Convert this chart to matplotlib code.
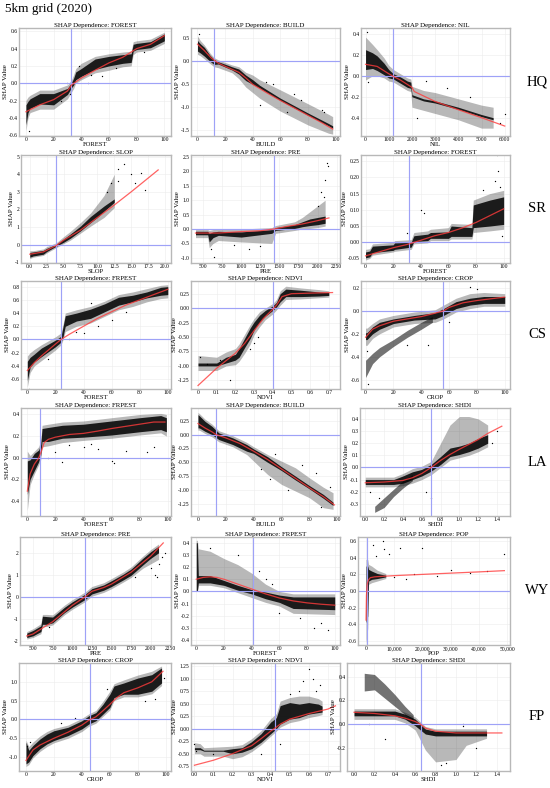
import matplotlib
matplotlib.use("Agg")
import matplotlib.pyplot as plt

plt.rcParams['font.family'] = ['Liberation Serif', 'DejaVu Serif']

# ---------------- text / categories ----------------
FIG_TITLE = "5km grid (2020)"
ROW_LABELS = ["HQ", "SR", "CS", "LA", "WY", "FP"]
TITLE_FEATURES = [["FOREST", "BUILD", "NIL"],
                  ["SLOP", "PRE", "FOREST"],
                  ["FRPEST", "NDVI", "CROP"],
                  ["FRPEST", "BUILD", "SHDI"],
                  ["PRE", "FRPEST", "POP"],
                  ["CROP", "NDVI", "SHDI"]]
X_LABELS = [["FOREST", "BUILD", "NIL"],
            ["SLOP", "PRE", "FOREST"],
            ["FOREST", "NDVI", "CROP"],
            ["FOREST", "BUILD", "SHDI"],
            ["PRE", "FOREST", "POP"],
            ["CROP", "NDVI", "SHDI"]]
VLINES = [[32.5, 11.8, 1164], [3.9, 1432, 31.7], [24.3, 0.40, 55.9],
          [9.25, 13.1, 0.70], [1164, 41.3, 250], [45.5, 0.424, 0.653]]

# ---------------- HQ ----------------
hq_forest_x   = [0, 1.5, 3, 10, 20, 30, 33, 34.5, 36, 40, 50, 60, 70, 76, 77.5, 80, 90, 100]
hq_forest_lo  = [-0.48, -0.34, -0.29, -0.24, -0.25, -0.13, -0.05, -0.02, 0.04, 0.08, 0.16, 0.2, 0.23, 0.24, 0.37, 0.39, 0.41, 0.49]
hq_forest_hi  = [-0.25, -0.21, -0.18, -0.12, -0.12, -0.06, 0.01, 0.06, 0.13, 0.17, 0.28, 0.31, 0.33, 0.34, 0.45, 0.46, 0.48, 0.57]
hq_forest_hlo = [-0.55, -0.4, -0.34, -0.3, -0.3, -0.18, -0.1, -0.06, 0.0, 0.04, 0.12, 0.15, 0.19, 0.2, 0.33, 0.36, 0.38, 0.46]
hq_forest_hhi = [-0.2, -0.16, -0.14, -0.08, -0.08, -0.02, 0.04, 0.1, 0.17, 0.23, 0.31, 0.34, 0.36, 0.37, 0.48, 0.49, 0.51, 0.59]
hq_forest_fx  = [0, 10, 20, 30, 33, 40, 50, 60, 70, 80, 90, 100]
hq_forest_fy  = [-0.33, -0.25, -0.19, -0.09, -0.02, 0.06, 0.15, 0.235, 0.30, 0.40, 0.45, 0.55]
hq_forest_px  = [2, 45, 47, 55, 30, 32, 25, 65, 85, 38]
hq_forest_py  = [-0.55, 0.0, 0.1, 0.08, 0.0, -0.12, -0.2, 0.17, 0.36, 0.2]

hq_build_x   = [0, 2, 5, 9, 12, 15, 25, 30, 35, 40, 45, 60, 80, 95, 98]
hq_build_lo  = [0.22, 0.18, 0.11, 0.0, -0.07, -0.06, -0.19, -0.28, -0.42, -0.5, -0.58, -0.85, -1.17, -1.4, -1.45]
hq_build_hi  = [0.45, 0.38, 0.3, 0.13, 0.04, -0.01, -0.12, -0.17, -0.3, -0.4, -0.52, -0.8, -1.12, -1.35, -1.4]
hq_build_hlo = [0.15, 0.12, 0.05, -0.05, -0.12, -0.14, -0.25, -0.38, -0.56, -0.68, -0.8, -1.08, -1.38, -1.56, -1.58]
hq_build_hhi = [0.55, 0.45, 0.35, 0.18, 0.08, 0.03, -0.08, -0.12, -0.24, -0.3, -0.4, -0.62, -0.92, -1.15, -1.2]
hq_build_fx  = [0, 5, 10, 15, 20, 30, 35, 40, 50, 60, 70, 80, 90, 98]
hq_build_fy  = [0.37, 0.23, 0.07, -0.04, -0.11, -0.24, -0.36, -0.5, -0.68, -0.85, -1.01, -1.17, -1.33, -1.47]
hq_build_px  = [1, 50, 55, 70, 75, 90, 92, 65, 45]
hq_build_py  = [0.6, -0.45, -0.5, -0.7, -0.85, -1.05, -1.1, -1.1, -0.95]

hq_nil_x   = [0, 300, 500, 800, 1000, 1200, 1500, 1800, 1950, 2000, 2500, 3000, 4000, 5000, 5500]
hq_nil_lo  = [0.06, 0.07, 0.05, 0.01, -0.02, -0.03, -0.07, -0.11, -0.12, -0.2, -0.24, -0.26, -0.32, -0.39, -0.42]
hq_nil_hi  = [0.25, 0.22, 0.19, 0.12, 0.06, 0.02, -0.01, -0.05, -0.06, -0.18, -0.22, -0.24, -0.3, -0.37, -0.40]
hq_nil_hlo = [-0.04, 0.0, 0.0, -0.02, -0.05, -0.06, -0.1, -0.14, -0.15, -0.3, -0.33, -0.36, -0.42, -0.5, -0.5]
hq_nil_hhi = [0.37, 0.3, 0.25, 0.17, 0.1, 0.06, 0.02, -0.02, -0.03, -0.1, -0.14, -0.16, -0.22, -0.28, -0.3]
hq_nil_fx  = [0, 500, 1000, 1200, 1500, 2000, 2100, 3000, 4000, 5000, 6000]
hq_nil_fy  = [0.11, 0.09, 0.02, -0.006, -0.04, -0.11, -0.15, -0.245, -0.324, -0.40, -0.48]
hq_nil_px  = [50, 100, 2200, 2600, 3500, 4500, 5800, 6000]
hq_nil_py  = [0.42, -0.06, -0.4, -0.05, -0.12, -0.2, -0.45, -0.36]

# ---------------- SR ----------------
sr_slop_x   = [0, 0.5, 2, 2.5, 3.9, 5, 6, 7.5, 9, 10, 11, 12.5]
sr_slop_lo  = [-0.72, -0.65, -0.55, -0.4, -0.1, 0.13, 0.36, 0.78, 1.25, 1.55, 1.9, 2.4]
sr_slop_hi  = [-0.45, -0.42, -0.33, -0.22, 0.02, 0.32, 0.6, 1.05, 1.6, 1.9, 2.2, 2.6]
sr_slop_hlo = [-0.8, -0.72, -0.62, -0.48, -0.18, 0.05, 0.25, 0.65, 1.05, 1.3, 1.55, 2.1]
sr_slop_hhi = [-0.35, -0.35, -0.25, -0.12, 0.1, 0.45, 0.75, 1.25, 1.8, 2.3, 2.8, 4.0]
sr_slop_fx  = [0, 2, 3.9, 5, 7.5, 10, 12.5, 15, 17.5, 19]
sr_slop_fy  = [-0.55, -0.42, -0.06, 0.25, 0.82, 1.54, 2.25, 3.0, 3.78, 4.25]
sr_slop_px  = [13.5, 14, 15, 16.5, 17, 14.5, 13, 12, 15.5, 11.5, 13]
sr_slop_py  = [5.2, 4.6, 4.0, 4.1, 3.1, 5.3, 3.6, 3.5, 3.5, 3.0, 4.3]

sr_pre_x   = [400, 560, 580, 630, 700, 1000, 1400, 1450, 1700, 1800, 1900, 2000, 2100]
sr_pre_lo  = [-0.2, -0.2, -0.45, -0.3, -0.22, -0.28, -0.15, -0.05, 0.02, 0.08, 0.12, 0.15, 0.2]
sr_pre_hi  = [-0.08, -0.08, -0.15, -0.1, -0.08, -0.1, -0.02, 0.05, 0.15, 0.25, 0.35, 0.4, 0.45]
sr_pre_hlo = [-0.3, -0.3, -0.65, -0.5, -0.4, -0.45, -0.5, -0.15, -0.05, 0.0, 0.02, 0.05, 0.1]
sr_pre_hhi = [-0.02, -0.02, -0.05, -0.02, 0.0, 0.0, 0.05, 0.12, 0.25, 0.4, 0.6, 0.8, 1.0]
sr_pre_fx  = [400, 700, 1000, 1250, 1430, 1600, 1800, 2000, 2150]
sr_pre_fy  = [-0.14, -0.14, -0.09, -0.06, 0.0, 0.09, 0.175, 0.29, 0.385]
sr_pre_px  = [640, 600, 2050, 2100, 2120, 2140, 2080, 2000, 1100, 1250, 900]
sr_pre_py  = [-0.98, -0.7, 1.3, 1.7, 2.3, 2.2, 1.1, 0.8, -0.7, -0.6, -0.55]

sr_forest_x   = [0, 3, 5, 20, 21, 33, 35, 45, 47, 60, 62, 77, 78, 90, 100]
sr_forest_lo  = [-0.048, -0.045, -0.032, -0.025, -0.022, -0.015, 0.002, 0.005, 0.012, 0.012, 0.018, 0.018, 0.045, 0.05, 0.055]
sr_forest_hi  = [-0.03, -0.027, -0.012, -0.008, -0.002, 0.0, 0.02, 0.025, 0.03, 0.032, 0.05, 0.045, 0.115, 0.13, 0.14]
sr_forest_hlo = [-0.055, -0.05, -0.04, -0.03, -0.028, -0.022, -0.005, -0.002, 0.005, 0.005, 0.01, 0.01, 0.03, 0.035, 0.04]
sr_forest_hhi = [-0.022, -0.02, -0.005, 0.0, 0.005, 0.008, 0.03, 0.035, 0.04, 0.045, 0.058, 0.055, 0.13, 0.15, 0.16]
sr_forest_fx  = [0, 20, 30, 40, 50, 60, 70, 80, 90, 100]
sr_forest_fy  = [-0.042, -0.017, -0.007, 0.006, 0.02, 0.03, 0.044, 0.061, 0.082, 0.103]
sr_forest_px  = [95, 96, 94, 40, 42, 99, 30, 85, 97]
sr_forest_py  = [0.27, 0.22, 0.19, 0.1, 0.09, 0.02, 0.03, 0.16, 0.17]

# ---------------- CS ----------------
cs_frpest_x   = [0, 2, 5, 10, 20, 24, 25.5, 27, 35, 45, 55, 65, 75, 85, 95, 100]
cs_frpest_lo  = [-0.62, -0.42, -0.34, -0.26, -0.11, -0.04, 0.05, 0.2, 0.28, 0.32, 0.42, 0.52, 0.57, 0.63, 0.67, 0.68]
cs_frpest_hi  = [-0.33, -0.27, -0.22, -0.13, -0.01, 0.05, 0.2, 0.36, 0.4, 0.46, 0.54, 0.64, 0.67, 0.72, 0.79, 0.8]
cs_frpest_hlo = [-0.72, -0.5, -0.4, -0.32, -0.16, -0.08, 0.0, 0.12, 0.2, 0.25, 0.35, 0.45, 0.5, 0.57, 0.62, 0.63]
cs_frpest_hhi = [-0.25, -0.2, -0.15, -0.08, 0.04, 0.1, 0.24, 0.4, 0.45, 0.5, 0.58, 0.68, 0.72, 0.77, 0.82, 0.83]
cs_frpest_fx  = [0, 5, 10, 20, 24, 30, 40, 50, 60, 70, 80, 90, 100]
cs_frpest_fy  = [-0.47, -0.35, -0.25, -0.07, 0.0, 0.08, 0.2, 0.32, 0.42, 0.52, 0.6, 0.68, 0.76]
cs_frpest_px  = [30, 35, 40, 50, 60, 1, 15, 45, 70]
cs_frpest_py  = [0.0, 0.12, 0.1, 0.2, 0.3, -0.75, -0.3, 0.55, 0.42]

cs_ndvi_x   = [0, 0.1, 0.15, 0.2, 0.22, 0.25, 0.28, 0.3, 0.33, 0.36, 0.4, 0.42, 0.44, 0.47, 0.55, 0.65, 0.7]
cs_ndvi_lo  = [-1.0, -1.0, -0.95, -0.9, -0.85, -0.68, -0.52, -0.38, -0.24, -0.14, -0.04, 0.02, 0.11, 0.2, 0.2, 0.21, 0.22]
cs_ndvi_hi  = [-0.95, -0.95, -0.85, -0.8, -0.7, -0.52, -0.34, -0.24, -0.12, -0.04, 0.04, 0.1, 0.25, 0.33, 0.31, 0.28, 0.27]
cs_ndvi_hlo = [-1.08, -1.08, -1.0, -0.98, -0.92, -0.78, -0.62, -0.46, -0.32, -0.2, -0.1, -0.03, 0.05, 0.15, 0.16, 0.18, 0.19]
cs_ndvi_hhi = [-0.82, -0.85, -0.76, -0.7, -0.62, -0.45, -0.28, -0.18, -0.06, 0.0, 0.08, 0.15, 0.3, 0.38, 0.35, 0.32, 0.3]
cs_ndvi_fx  = [0, 0.1, 0.2, 0.25, 0.3, 0.35, 0.4, 0.42, 0.45, 0.5, 0.6, 0.72]
cs_ndvi_fy  = [-1.34, -1.04, -0.78, -0.61, -0.39, -0.18, -0.02, 0.05, 0.2, 0.25, 0.26, 0.27]
cs_ndvi_px  = [0.17, 0.01, 0.05, 0.12, 0.3, 0.32, 0.28]
cs_ndvi_py  = [-1.25, -0.85, -0.97, -0.9, -0.6, -0.5, -0.7]

cs_crop_x   = [0, 1, 5, 10, 20, 35, 50, 56, 65, 75, 85, 100]
cs_crop_lo  = [-0.25, -0.25, -0.2, -0.16, -0.11, -0.08, -0.07, -0.04, 0.02, 0.05, 0.065, 0.065]
cs_crop_hi  = [-0.19, -0.19, -0.14, -0.1, -0.07, -0.04, -0.015, 0.02, 0.08, 0.11, 0.125, 0.125]
cs_crop_hlo = [-0.3, -0.3, -0.24, -0.2, -0.14, -0.11, -0.1, -0.07, -0.01, 0.02, 0.04, 0.04]
cs_crop_hhi = [-0.15, -0.15, -0.11, -0.07, -0.04, -0.01, 0.01, 0.05, 0.11, 0.15, 0.16, 0.15]
cs_crop_x2  = [0, 5, 10, 20, 30, 40, 48]
cs_crop_lo2 = [-0.58, -0.46, -0.4, -0.31, -0.23, -0.16, -0.1]
cs_crop_hi2 = [-0.43, -0.37, -0.32, -0.25, -0.17, -0.1, -0.05]
cs_crop_fx  = [0, 5, 10, 20, 30, 40, 50, 56, 60, 70, 80, 90, 100]
cs_crop_fy  = [-0.23, -0.16, -0.13, -0.09, -0.07, -0.05, -0.02, 0.0, 0.03, 0.07, 0.09, 0.105, 0.12]
cs_crop_px  = [2, 45, 30, 75, 80, 1, 60]
cs_crop_py  = [-0.64, -0.3, -0.3, 0.21, 0.19, -0.35, -0.1]

# ---------------- LA ----------------
la_frpest_x   = [0, 2, 5, 8, 9.5, 10.5, 15, 25, 40, 60, 80, 95, 99]
la_frpest_lo  = [-0.34, -0.2, -0.12, -0.04, 0.02, 0.15, 0.15, 0.18, 0.19, 0.21, 0.24, 0.26, 0.24]
la_frpest_hi  = [-0.03, -0.02, 0.04, 0.07, 0.12, 0.27, 0.28, 0.3, 0.31, 0.34, 0.37, 0.39, 0.37]
la_frpest_hlo = [-0.49, -0.25, -0.15, -0.07, -0.02, 0.1, 0.11, 0.14, 0.16, 0.18, 0.21, 0.23, 0.2]
la_frpest_hhi = [0.06, 0.02, 0.06, 0.1, 0.15, 0.3, 0.31, 0.33, 0.34, 0.37, 0.4, 0.41, 0.4]
la_frpest_fx  = [0, 2, 5, 8, 10, 12, 15, 20, 30, 40, 50, 60, 70, 80, 90, 98]
la_frpest_fy  = [-0.31, -0.15, -0.06, -0.005, 0.06, 0.14, 0.17, 0.19, 0.215, 0.225, 0.246, 0.27, 0.29, 0.31, 0.33, 0.33]
la_frpest_px  = [20, 25, 40, 60, 62, 70, 90, 15, 30, 50, 85, 45]
la_frpest_py  = [0.05, -0.04, 0.1, -0.03, -0.05, 0.06, 0.1, 0.0, 0.12, 0.08, 0.05, 0.13]

la_build_x   = [0, 1, 5, 10, 15, 25, 35, 40, 50, 60, 70, 80, 90, 97]
la_build_lo  = [0.12, 0.12, 0.06, 0.0, -0.09, -0.18, -0.3, -0.34, -0.5, -0.65, -0.82, -0.98, -1.15, -1.28]
la_build_hi  = [0.36, 0.34, 0.24, 0.15, 0.03, -0.06, -0.18, -0.26, -0.4, -0.58, -0.75, -0.92, -1.08, -1.22]
la_build_hlo = [0.08, 0.08, 0.02, -0.04, -0.13, -0.22, -0.36, -0.48, -0.72, -0.9, -1.02, -1.14, -1.32, -1.35]
la_build_hhi = [0.4, 0.38, 0.28, 0.19, 0.07, -0.02, -0.14, -0.22, -0.36, -0.48, -0.6, -0.78, -0.95, -1.05]
la_build_fx  = [0, 5, 10, 13, 20, 30, 40, 50, 60, 70, 80, 90, 98]
la_build_fy  = [0.2, 0.12, 0.05, 0.0, -0.06, -0.16, -0.3, -0.45, -0.62, -0.79, -0.96, -1.12, -1.27]
la_build_px  = [45, 55, 65, 75, 85, 95, 88, 52]
la_build_py  = [-0.62, -0.35, -1.0, -0.55, -0.7, -0.95, -1.3, -0.8]

la_shdi_x   = [0, 0.3, 0.4, 0.5, 0.6, 0.7, 0.8, 0.9, 1.0, 1.1, 1.2, 1.3]
la_shdi_lo  = [-0.14, -0.14, -0.13, -0.1, -0.07, -0.03, 0.025, 0.09, 0.107, 0.13, 0.16, 0.2]
la_shdi_hi  = [-0.1, -0.1, -0.07, -0.036, -0.016, 0.025, 0.09, 0.16, 0.176, 0.2, 0.24, 0.27]
la_shdi_hlo = [-0.16, -0.16, -0.15, -0.13, -0.1, -0.06, 0.0, 0.06, 0.08, 0.1, 0.13, 0.17]
la_shdi_hhi = [-0.08, -0.08, -0.05, -0.01, 0.01, 0.05, 0.2, 0.35, 0.42, 0.42, 0.4, 0.35]
la_shdi_x2  = [0.1, 0.2, 0.3, 0.4, 0.5]
la_shdi_lo2 = [-0.37, -0.33, -0.24, -0.17, -0.11]
la_shdi_hi2 = [-0.32, -0.25, -0.18, -0.11, -0.06]
la_shdi_fx  = [0.0, 0.2, 0.4, 0.5, 0.6, 0.7, 0.8, 0.9, 1.0, 1.1, 1.2, 1.3, 1.45]
la_shdi_fy  = [-0.126, -0.12, -0.107, -0.085, -0.05, 0.0, 0.058, 0.107, 0.15, 0.19, 0.23, 0.28, 0.34]
la_shdi_px  = [0.05, 0.15, 1.4, 1.35, 0.65, 0.7]
la_shdi_py  = [-0.2, -0.25, 0.3, 0.2, -0.2, -0.25]

# ---------------- WY ----------------
wy_pre_x   = [420, 500, 600, 620, 680, 750, 900, 1000, 1164, 1250, 1400, 1500, 1650, 1750, 1900, 2000, 2100]
wy_pre_lo  = [-1.85, -1.77, -1.58, -1.25, -1.25, -1.18, -0.72, -0.47, -0.12, 0.13, 0.3, 0.47, 0.77, 0.98, 1.45, 1.75, 2.0]
wy_pre_hi  = [-1.65, -1.53, -1.32, -0.88, -0.9, -0.92, -0.48, -0.23, 0.12, 0.37, 0.54, 0.73, 1.03, 1.26, 1.75, 2.05, 2.3]
wy_pre_hlo = [-1.92, -1.85, -1.68, -1.35, -1.35, -1.28, -0.82, -0.57, -0.22, 0.03, 0.2, 0.37, 0.67, 0.88, 1.3, 1.5, 1.7]
wy_pre_hhi = [-1.58, -1.45, -1.22, -0.8, -0.8, -0.82, -0.38, -0.13, 0.22, 0.47, 0.64, 0.83, 1.13, 1.36, 1.85, 2.15, 2.4]
wy_pre_fx  = [420, 500, 750, 1000, 1164, 1250, 1400, 1500, 1750, 2000, 2160]
wy_pre_fy  = [-1.78, -1.69, -1.13, -0.39, 0.0, 0.25, 0.42, 0.58, 1.12, 1.85, 2.45]
wy_pre_px  = [2050, 2080, 2100, 2150, 2180, 2000, 1800, 700]
wy_pre_py  = [1.0, 0.9, 1.5, 1.8, 2.0, 1.3, 0.9, -1.35]

wy_frpest_x   = [0, 0.8, 1.5, 10, 20, 30, 40, 50, 60, 70, 100]
wy_frpest_lo  = [0.0, 0.0, 0.07, 0.07, 0.05, 0.01, -0.02, -0.06, -0.09, -0.14, -0.15]
wy_frpest_hi  = [0.4, 0.4, 0.13, 0.13, 0.09, 0.05, 0.015, -0.005, -0.03, -0.045, -0.045]
wy_frpest_hlo = [0.0, 0.0, 0.05, 0.05, 0.03, -0.01, -0.05, -0.09, -0.12, -0.18, -0.19]
wy_frpest_hhi = [0.42, 0.42, 0.35, 0.33, 0.27, 0.22, 0.15, 0.06, 0.0, -0.02, -0.02]
wy_frpest_fx  = [0, 5, 10, 15, 20, 30, 40, 50, 60, 70, 80, 90, 100]
wy_frpest_fy  = [0.1, 0.115, 0.12, 0.115, 0.1, 0.06, 0.02, -0.02, -0.054, -0.078, -0.094, -0.105, -0.113]
wy_frpest_px  = [85, 90, 75, 60, 50, 45, 55, 95, 30, 10]
wy_frpest_py  = [-0.3, -0.26, -0.22, -0.18, 0.1, 0.17, 0.06, -0.32, 0.3, 0.36]

wy_pop_x   = [0, 600, 900, 2000, 4000, 7000]
wy_pop_lo  = [-0.38, -0.3, 0.12, 0.14, 0.15, 0.17]
wy_pop_hi  = [0.3, 0.3, 0.26, 0.24, 0.21, 0.19]
wy_pop_hlo = [-0.62, -0.45, 0.08, 0.1, 0.12, 0.15]
wy_pop_hhi = [0.38, 0.38, 0.32, 0.3, 0.25, 0.21]
wy_pop_fx  = [0, 150, 400, 800, 1500, 3000, 5000, 10000, 20000, 30000, 40000, 49000]
wy_pop_fy  = [-0.35, -0.05, 0.08, 0.13, 0.16, 0.17, 0.175, 0.185, 0.2, 0.215, 0.23, 0.245]
wy_pop_px  = [2500, 6000, 6500, 12000, 20000, 14000, 17000, 30000, 37000, 49000, 8000, 3500, 10000, 25000, 43000]
wy_pop_py  = [0.55, 0.6, 0.5, 0.52, 0.52, 0.15, 0.2, 0.25, 0.22, 0.45, 0.45, 0.42, 0.17, 0.18, 0.24]

# ---------------- FP ----------------
fp_crop_x   = [0, 2, 5, 10, 15, 20, 30, 40, 45, 50, 55, 60, 63, 70, 80, 90, 97]
fp_crop_lo  = [-1.18, -1.13, -0.96, -0.78, -0.65, -0.56, -0.43, -0.25, -0.12, -0.035, 0.14, 0.32, 0.58, 0.67, 0.67, 0.75, 0.97]
fp_crop_hi  = [-0.6, -0.82, -0.69, -0.52, -0.39, -0.3, -0.21, -0.035, 0.1, 0.18, 0.4, 0.67, 0.89, 0.97, 1.1, 1.19, 1.37]
fp_crop_hlo = [-1.25, -1.2, -1.02, -0.85, -0.72, -0.62, -0.5, -0.32, -0.18, -0.1, 0.08, 0.25, 0.5, 0.6, 0.6, 0.68, 0.9]
fp_crop_hhi = [-0.55, -0.72, -0.6, -0.44, -0.32, -0.24, -0.15, 0.03, 0.15, 0.24, 0.48, 0.75, 0.95, 1.05, 1.18, 1.28, 1.42]
fp_crop_fx  = [0, 5, 10, 20, 30, 40, 45, 50, 55, 60, 65, 70, 80, 90, 98]
fp_crop_fy  = [-1.09, -0.81, -0.68, -0.5, -0.34, -0.15, -0.02, 0.07, 0.23, 0.4, 0.58, 0.71, 0.84, 1.0, 1.28]
fp_crop_px  = [1, 3, 25, 35, 85, 92, 99, 58]
fp_crop_py  = [-0.7, -0.6, -0.1, 0.05, 0.5, 0.55, 1.1, 0.8]

fp_ndvi_x   = [0, 0.03, 0.05, 0.15, 0.2, 0.25, 0.3, 0.35, 0.4, 0.43, 0.45, 0.5, 0.55, 0.6, 0.65, 0.67]
fp_ndvi_lo  = [-0.42, -0.42, -0.45, -0.45, -0.5, -0.47, -0.4, -0.27, -0.1, 0.0, 0.09, 0.19, 0.22, 0.29, 0.32, 0.33]
fp_ndvi_hi  = [-0.38, -0.38, -0.43, -0.43, -0.4, -0.38, -0.26, -0.1, 0.13, 0.22, 0.46, 0.52, 0.49, 0.52, 0.49, 0.45]
fp_ndvi_hlo = [-0.5, -0.5, -0.55, -0.55, -0.6, -0.56, -0.46, -0.32, -0.15, -0.05, 0.03, 0.12, 0.16, 0.22, 0.26, 0.28]
fp_ndvi_hhi = [-0.28, -0.3, -0.38, -0.36, -0.35, -0.32, -0.2, -0.04, 0.2, 0.3, 0.55, 0.62, 0.65, 0.65, 0.6, 0.55]
fp_ndvi_fx  = [0, 0.1, 0.2, 0.3, 0.35, 0.4, 0.43, 0.45, 0.5, 0.6, 0.7, 0.74]
fp_ndvi_fy  = [-0.73, -0.63, -0.5, -0.34, -0.2, -0.05, 0.03, 0.09, 0.19, 0.3, 0.39, 0.455]
fp_ndvi_px  = [0.6, 0.62, 0.57, 0.66, 0.55, 0.5, 0.0, 0.01, 0.1, 0.35, 0.45, 0.64]
fp_ndvi_py  = [1.2, 1.0, 0.95, 0.88, 0.75, 0.7, -0.3, -0.45, -0.5, -0.5, -0.3, 0.75]

fp_shdi_x   = [0, 0.4, 0.5, 0.6, 0.7, 0.8, 1.0, 1.1, 1.3]
fp_shdi_lo  = [0.07, 0.07, 0.042, -0.014, -0.084, -0.1, -0.1, -0.1, -0.1]
fp_shdi_hi  = [0.11, 0.11, 0.084, 0.042, -0.042, -0.06, -0.06, -0.06, -0.06]
fp_shdi_hlo = [0.04, 0.04, 0.01, -0.05, -0.22, -0.32, -0.3, -0.18, -0.12]
fp_shdi_hhi = [0.13, 0.13, 0.1, 0.06, -0.02, -0.04, -0.04, -0.04, -0.04]
fp_shdi_x2  = [0.1, 0.2, 0.3, 0.4, 0.5, 0.58]
fp_shdi_lo2 = [0.28, 0.29, 0.22, 0.15, 0.08, 0.03]
fp_shdi_hi2 = [0.43, 0.42, 0.34, 0.25, 0.15, 0.08]
fp_shdi_fx  = [0, 0.2, 0.4, 0.5, 0.6, 0.65, 0.7, 0.8, 1.0, 1.2, 1.45]
fp_shdi_fy  = [0.1, 0.09, 0.07, 0.05, 0.022, 0.0, -0.034, -0.06, -0.075, -0.075, -0.075]
fp_shdi_px  = [0.3, 0.15, 1.07, 1.07, 0.9, 0.85, 1.2]
fp_shdi_py  = [-0.13, 0.0, 0.0, -0.02, -0.33, -0.35, -0.2]

# ---------------- tick values / label formats ----------------
T100 = [0, 20, 40, 60, 80, 100]
XTICKS = [[T100, T100, [0, 1000, 2000, 3000, 4000, 5000, 6000]],
          [[0, 2.5, 5, 7.5, 10, 12.5, 15, 17.5, 20], [500, 750, 1000, 1250, 1500, 1750, 2000, 2250], T100],
          [T100, [0, 0.1, 0.2, 0.3, 0.4, 0.5, 0.6, 0.7], T100],
          [T100, T100, [0, 0.2, 0.4, 0.6, 0.8, 1.0, 1.2, 1.4]],
          [[500, 750, 1000, 1250, 1500, 1750, 2000, 2250], T100, [0, 10000, 20000, 30000, 40000, 50000]],
          [T100, [0, 0.1, 0.2, 0.3, 0.4, 0.5, 0.6, 0.7], [0, 0.2, 0.4, 0.6, 0.8, 1.0, 1.2, 1.4]]]
XFMT = [["{:.0f}", "{:.0f}", "{:.0f}"],
        ["{:.1f}", "{:.0f}", "{:.0f}"],
        ["{:.0f}", "{:g}", "{:.0f}"],
        ["{:.0f}", "{:.0f}", "{:.1f}"],
        ["{:.0f}", "{:.0f}", "{:,.0f}"],
        ["{:.0f}", "{:.1f}", "{:.1f}"]]
YTICKS = [[[-0.6, -0.4, -0.2, 0.0, 0.2, 0.4, 0.6], [-1.5, -1.0, -0.5, 0.0, 0.5], [-0.4, -0.2, 0.0, 0.2, 0.4]],
          [[-1, 0, 1, 2, 3, 4, 5], [-1.0, -0.5, 0.0, 0.5, 1.0, 1.5, 2.0, 2.5], [-0.05, 0.0, 0.05, 0.10, 0.15, 0.20, 0.25]],
          [[-0.6, -0.4, -0.2, 0.0, 0.2, 0.4, 0.6, 0.8], [-1.25, -1.0, -0.75, -0.5, -0.25, 0.0, 0.25], [-0.6, -0.4, -0.2, 0.0, 0.2]],
          [[-0.4, -0.2, 0.0, 0.2, 0.4], [-1.25, -1.0, -0.75, -0.5, -0.25, 0.0, 0.25], [-0.3, -0.2, -0.1, 0.0, 0.1, 0.2, 0.3, 0.4]],
          [[-2, -1, 0, 1, 2], [-0.4, -0.3, -0.2, -0.1, 0.0, 0.1, 0.2, 0.3, 0.4], [-0.6, -0.4, -0.2, 0.0, 0.2, 0.4, 0.6]],
          [[-1.0, -0.5, 0.0, 0.5, 1.0], [-0.75, -0.5, -0.25, 0.0, 0.25, 0.5, 0.75, 1.0, 1.25], [-0.2, 0.0, 0.2, 0.4]]]
YFMT = [["{:.1f}", "{:.1f}", "{:.1f}"],
        ["{:.0f}", "{:.1f}", "{:.2f}"],
        ["{:.1f}", "{:.2f}", "{:.1f}"],
        ["{:.1f}", "{:.2f}", "{:.1f}"],
        ["{:.0f}", "{:.1f}", "{:.1f}"],
        ["{:.1f}", "{:.2f}", "{:.1f}"]]

# ---------------- layout (pixels, limits) ----------------
XLIMS = [[(-5, 104.8), (-4.7, 103.3), (-196, 6227)],
         [(-1.3, 20.9), (341, 2295), (-3.3, 104.6)],
         [(-4.5, 102.3), (-0.0375, 0.76), (-3.3, 103.8)],
         [(-4.5, 102.3), (-5.0, 102), (-0.056, 1.537)],
         [(334, 2259), (-3.8, 103.8), (-2850, 51000)],
         [(-5, 103.75), (-0.018, 0.764), (-0.069, 1.53)]]
YLIMS = [[(-0.61, 0.638), (-1.62, 0.72), (-0.575, 0.457)],
         [(-1.05, 5.1), (-1.18, 2.57), (-0.064, 0.269)],
         [(-0.75, 0.886), (-1.40, 0.47), (-0.68, 0.26)],
         [(-0.54, 0.46), (-1.47, 0.48), (-0.40, 0.49)],
         [(-2.19, 2.72), (-0.44, 0.447), (-0.65, 0.65)],
         [(-1.37, 1.5), (-0.845, 1.31), (-0.397, 0.517)]]
ROW_TOPS = [28, 155, 281, 408, 537, 663]
AX_H = 108
COL_LEFT = [[19, 191, 361], [21, 191, 361], [21, 191, 361],
            [21, 191, 360], [20, 191, 358], [19, 191, 347]]
COL_RIGHT = [171, 340, 510]

W, H = 550, 788
BLUE = '#9ea2f7'
RED = '#ff3b3b'

# ---------------- assemble panels from the named arrays ----------------
ns = globals()
prefixes = [["hq_forest", "hq_build", "hq_nil"],
            ["sr_slop", "sr_pre", "sr_forest"],
            ["cs_frpest", "cs_ndvi", "cs_crop"],
            ["la_frpest", "la_build", "la_shdi"],
            ["wy_pre", "wy_frpest", "wy_pop"],
            ["fp_crop", "fp_ndvi", "fp_shdi"]]

fig = plt.figure(figsize=(W / 100, H / 100), dpi=100)
fig.text(5 / W, 1 - 3 / H, FIG_TITLE, fontsize=9.5, ha='left', va='top')

for r in range(6):
    for c in range(3):
        p = prefixes[r][c]
        left = COL_LEFT[r][c]
        right = COL_RIGHT[c]
        top = ROW_TOPS[r]
        ax = fig.add_axes([left / W, 1 - (top + AX_H) / H, (right - left) / W, AX_H / H])
        ax.set_facecolor('white')
        ax.grid(True, color='#ececec', lw=0.4)
        ax.set_axisbelow(True)

        ax.fill_between(ns[p + "_x"], ns[p + "_hlo"], ns[p + "_hhi"], color='k', alpha=0.28, lw=0, zorder=2)
        ax.fill_between(ns[p + "_x"], ns[p + "_lo"], ns[p + "_hi"], color='k', alpha=0.85, lw=0, zorder=2.1)
        if (p + "_x2") in ns:
            ax.fill_between(ns[p + "_x2"], ns[p + "_lo2"], ns[p + "_hi2"], color='k', alpha=0.55, lw=0, zorder=2.1)
        ax.scatter(ns[p + "_px"], ns[p + "_py"], s=0.9, c='k', lw=0, zorder=2.2)

        ax.axhline(0, color=BLUE, lw=0.85, zorder=2.5)
        ax.axvline(VLINES[r][c], color=BLUE, lw=0.85, zorder=2.5)
        ax.plot(ns[p + "_fx"], ns[p + "_fy"], color=RED, lw=0.9, alpha=0.8, zorder=3)

        ax.set_xlim(*XLIMS[r][c])
        ax.set_ylim(*YLIMS[r][c])
        xt = XTICKS[r][c]
        yt = YTICKS[r][c]
        ax.set_xticks(xt)
        ax.set_xticklabels([XFMT[r][c].format(v) for v in xt])
        ax.set_yticks(yt)
        ax.set_yticklabels([YFMT[r][c].format(v) for v in yt])
        ax.tick_params(length=0, pad=1.0, labelsize=4.0)
        for s in ax.spines.values():
            s.set_color('#b8b8b8')
            s.set_linewidth(1.0)

        ax.set_title("SHAP Dependence: " + TITLE_FEATURES[r][c], fontsize=5.0, pad=0.8)
        ax.set_xlabel(X_LABELS[r][c], fontsize=4.8, labelpad=0.0)
        ax.set_ylabel("SHAP Value", fontsize=5.0, labelpad=0.5)

    fig.text(537 / W, 1 - (ROW_TOPS[r] + AX_H / 2) / H, ROW_LABELS[r], fontsize=10.5,
             ha='center', va='center')

fig.savefig("out.png", dpi=100)
